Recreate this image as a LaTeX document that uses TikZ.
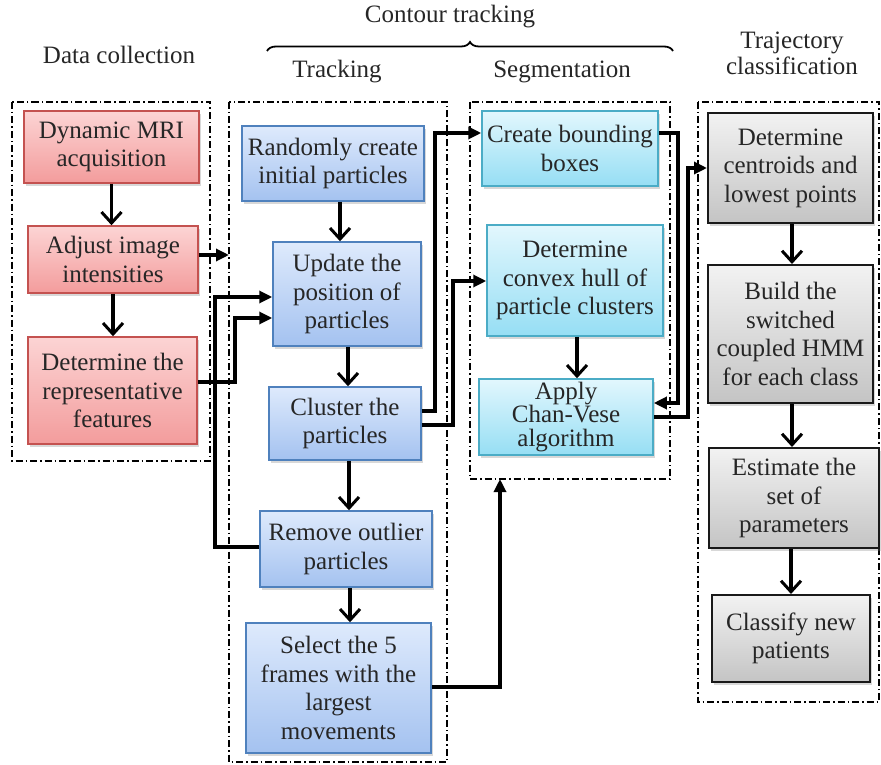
\documentclass[tikz,border=0pt]{standalone}
\usepackage{fontspec}
\setmainfont{Liberation Serif}
\usetikzlibrary{arrows.meta,shadows,decorations.pathreplacing}
\definecolor{redbd}{RGB}{196,82,80}
\definecolor{redtop}{RGB}{252,212,212}
\definecolor{redbot}{RGB}{243,156,156}
\definecolor{bluebd}{RGB}{79,129,189}
\definecolor{bluetop}{RGB}{222,234,252}
\definecolor{bluebot}{RGB}{164,194,240}
\definecolor{cyanbd}{RGB}{75,172,198}
\definecolor{cyantop}{RGB}{226,247,253}
\definecolor{cyanbot}{RGB}{150,222,244}
\definecolor{graybd}{RGB}{25,25,25}
\definecolor{graytop}{RGB}{242,242,242}
\definecolor{graybot}{RGB}{196,196,196}
\definecolor{txt}{RGB}{38,38,38}
\begin{document}
\begin{tikzpicture}[x=1pt,y=-1pt,
  box/.style={align=center, inner sep=0pt, text=txt,
    font=\fontsize{25}{28.5}\selectfont,
    drop shadow={opacity=0.3,shadow xshift=2pt,shadow yshift=-3pt}},
  redb/.style={box, draw=redbd, line width=1.5pt, top color=redtop, bottom color=redbot},
  blueb/.style={box, draw=bluebd, line width=1.5pt, top color=bluetop, bottom color=bluebot},
  cyanb/.style={box, draw=cyanbd, line width=1.5pt, top color=cyantop, bottom color=cyanbot},
  grayb/.style={box, draw=graybd, line width=2pt, top color=graytop, bottom color=graybot},
  frame/.style={draw=black, line width=1.2pt, dash pattern=on 7pt off 3pt on 1.5pt off 3pt},
  head/.style={font=\fontsize{25}{26}\selectfont, text=txt, align=center},
  va/.style={line width=3.2pt, -{Straight Barb[length=11pt,width=20pt,line width=3pt]}},
  ea/.style={line width=3.2pt, -{Triangle[length=13pt,width=12pt]}}
]
\useasboundingbox (0,0) rectangle (881,765);
\fill[white] (0,0) rectangle (881,765);

% headers
\node[head] (hdc) at (119,55) {Data collection};
\node[head] (hct) at (450,17) {Contour tracking};
\draw[line width=1.8pt, decorate, decoration={brace, amplitude=9pt}] (267,51) -- (673,51);
\node[head] (htr) at (337,72) {Tracking};
\node[head] (hsg) at (562,72) {Segmentation};
\node[head] (htc) at (792,53) {Trajectory\\classification};

% frames
\draw[frame] (12,102) rectangle (210,461);
\draw[frame] (229,102) rectangle (447,762);
\draw[frame] (470,102) rectangle (670,479);
\draw[frame] (698,102) rectangle (879,702);

% boxes
\node[redb, minimum width=175pt, minimum height=72pt] (mri) at (111.5,147) {Dynamic MRI\\acquisition};
\node[redb, minimum width=170pt, minimum height=67pt] (adj) at (113,259.5) {Adjust image\\intensities};
\node[redb, minimum width=169pt, minimum height=107pt] (rep) at (112.5,390.5) {Determine the\\representative\\features};

\node[blueb, minimum width=182pt, minimum height=75pt] (rnd) at (333,163.5) {Randomly create\\initial particles};
\node[blueb, minimum width=148pt, minimum height=104pt] (upd) at (347,294) {Update the\\position of\\particles};
\node[blueb, minimum width=152pt, minimum height=73pt] (clu) at (345,423.5) {Cluster the\\particles};
\node[blueb, minimum width=172pt, minimum height=76pt] (rem) at (346,549) {Remove outlier\\particles};
\node[blueb, minimum width=185pt, minimum height=130pt] (sel) at (338.5,688) {Select the 5\\frames with the\\largest\\movements};

\node[cyanb, minimum width=176pt, minimum height=75pt] (cbb) at (570,148.5) {Create bounding\\boxes};
\node[cyanb, minimum width=176pt, minimum height=111pt] (cvx) at (575,280.5) {Determine\\convex hull of\\particle clusters};
\node[cyanb, minimum width=174pt, minimum height=76pt, font=\fontsize{25}{23.5}\selectfont] (cv) at (566,417) {Apply\\Chan-Vese\\algorithm};

\node[grayb, minimum width=165pt, minimum height=110pt] (cen) at (790.5,168) {Determine\\centroids and\\lowest points};
\node[grayb, minimum width=165pt, minimum height=138pt] (bld) at (790.5,334) {Build the\\switched\\coupled HMM\\for each class};
\node[grayb, minimum width=170pt, minimum height=100pt] (est) at (794,498) {Estimate the\\set of\\parameters};
\node[grayb, minimum width=158pt, minimum height=87pt] (cls) at (791,638.5) {Classify new\\patients};

% coordinates on frame edges
\coordinate (f2l) at (229,255);
\coordinate (f3b) at (500,479);

% connectors
\draw[va] (mri.south) -- (mri.south |- adj.north);
\draw[va] (adj.south) -- (adj.south |- rep.north);
\draw[ea] (adj.east |- f2l) -- (f2l);
\draw[ea] (rep.east |- 0,382) -| (235,318) -- (upd.west |- 0,318);
\draw[ea] (rem.west |- 0,547) -| (215,297) -- (upd.west |- 0,297);

\draw[va] (rnd.south -| 340,0) -- (upd.north -| 340,0);
\draw[va] (upd.south -| 348,0) -- (clu.north -| 348,0);
\draw[va] (clu.south -| 349,0) -- (rem.north -| 349,0);
\draw[va] (rem.south -| 350,0) -- (sel.north -| 350,0);

\draw[ea] (clu.east |- 0,411) -| (435,133) -- (cbb.west |- 0,133);
\draw[ea] (clu.east |- 0,425) -| (453,281) -- (cvx.west |- 0,281);
\draw[va] (cvx.south -| 577,0) -- (cv.north -| 577,0);
\draw[ea] (cbb.east |- 0,133) -| (678,403) -- (cv.east |- 0,403);
\draw[ea] (cv.east |- 0,417) -| (688,168) -- (cen.west |- 0,168);
\draw[ea] (sel.east |- 0,687) -| (f3b);

\draw[va] (cen.south -| 792,0) -- (bld.north -| 792,0);
\draw[va] (bld.south -| 792,0) -- (est.north -| 792,0);
\draw[va] (est.south -| 791,0) -- (cls.north -| 791,0);
\end{tikzpicture}
\end{document}
